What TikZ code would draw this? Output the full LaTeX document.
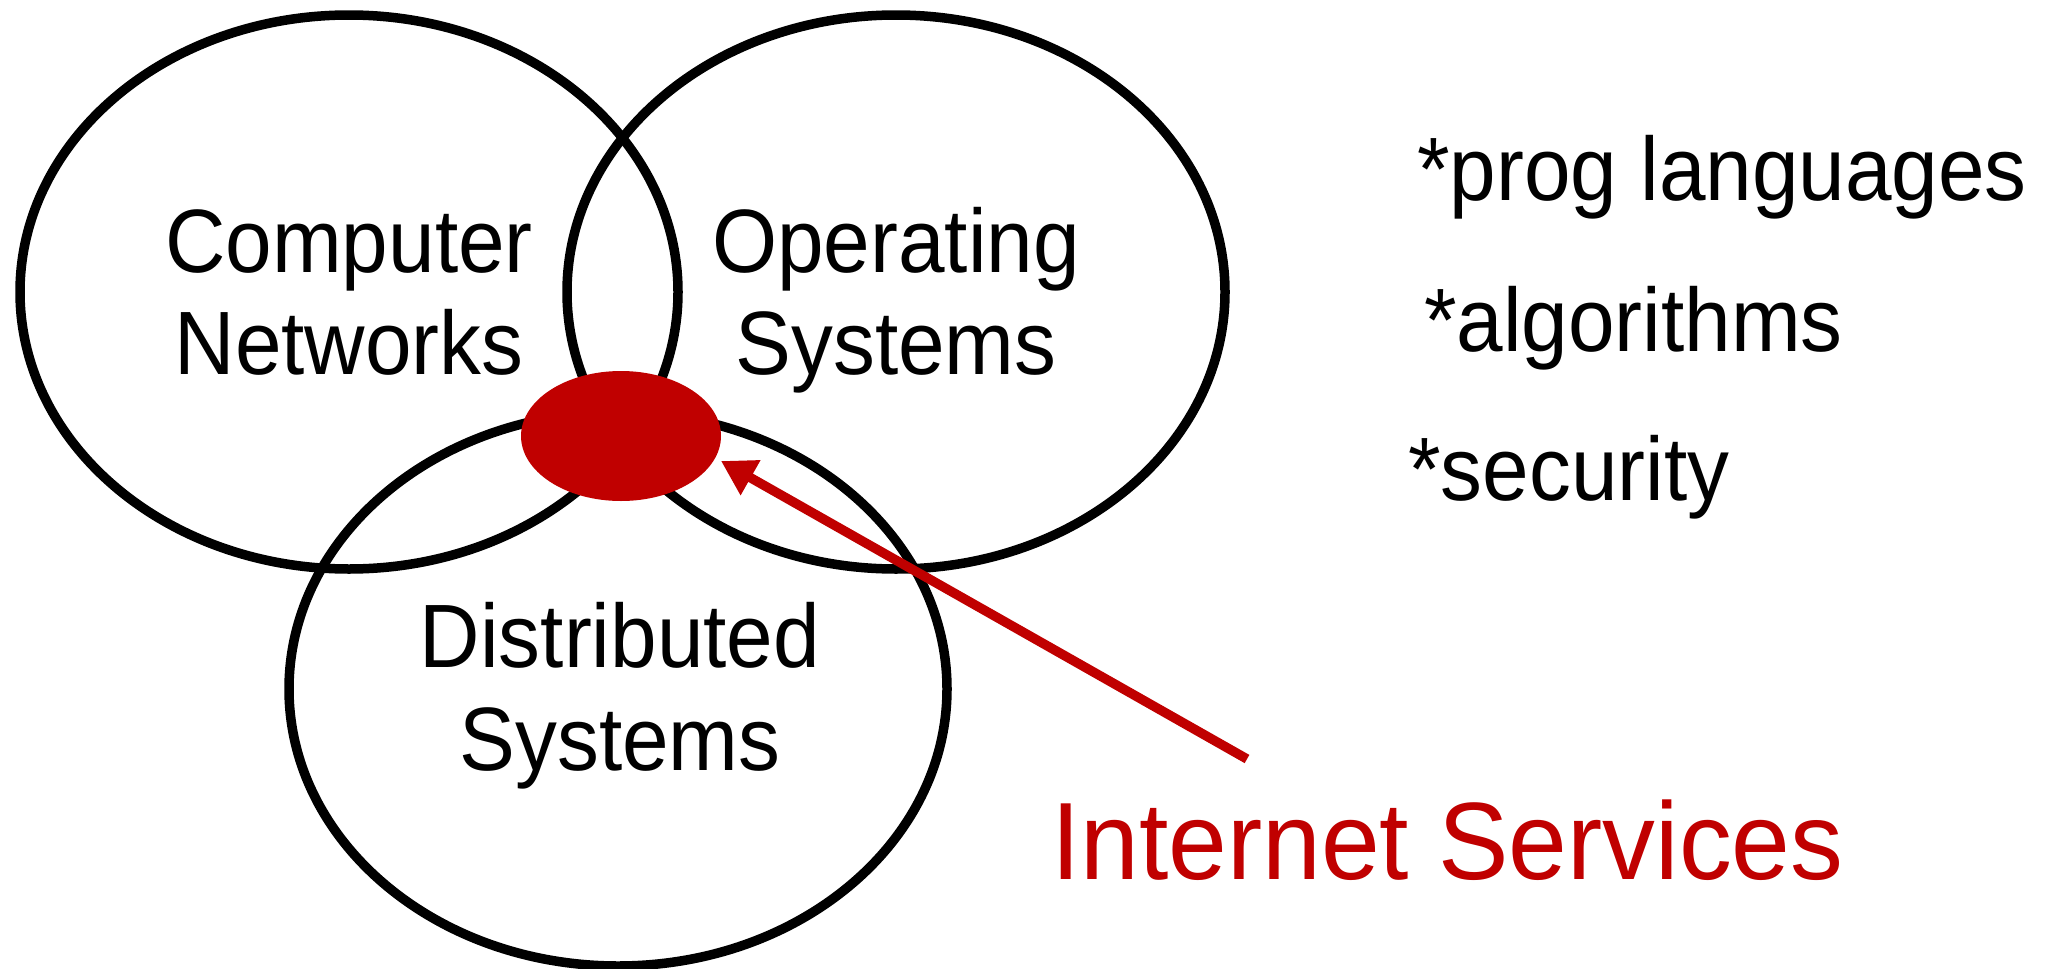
\documentclass[tikz,border=0pt]{standalone}
\usepackage{fontspec}
\usetikzlibrary{shapes.geometric,arrows.meta}
\newfontfamily\helv[FakeStretch=0.93]{Liberation Sans}
\newfontfamily\helvwide[FakeStretch=0.96]{Liberation Sans}
\definecolor{accent}{RGB}{192,0,0}
\tikzset{
  field/.style={ellipse, draw=black, line width=9.5pt, inner sep=0pt,
                minimum width=658pt, minimum height=554pt},
  core/.style={ellipse, fill=accent, inner sep=0pt,
               minimum width=200pt, minimum height=130pt},
  lbl/.style={anchor=base, inner sep=0pt, font=\helv\fontsize{90}{102}\selectfont},
  topic/.style={anchor=base west, inner sep=0pt, font=\helv\fontsize{90}{102}\selectfont},
  callout/.style={anchor=base west, inner sep=0pt, text=accent,
                  font=\helvwide\fontsize{110}{120}\selectfont},
  pointer/.style={draw=accent, line width=9.5pt, -{Triangle[length=34pt,width=38pt]}}
}
\begin{document}
\begin{tikzpicture}[x=1pt,y=-1pt]
  \useasboundingbox (0,0) rectangle (2067,969);

  % three overlapping fields
  \node[field] (cn) at (349,292) {};
  \node[field] (os) at (896,292) {};
  \node[field] (ds) at (618,689) {};

  % shared core
  \node[core] (is) at (621,436) {};

  % field names
  \node[lbl] (cn1) at (349,272) {Computer};
  \node[lbl] (cn2) at (349,374) {Networks};
  \node[lbl] (os1) at (896,272) {Operating};
  \node[lbl] (os2) at (896,374) {Systems};
  \node[lbl] (ds1) at (620,667) {Distributed};
  \node[lbl] (ds2) at (620,770) {Systems};

  % related topics
  \node[topic] (t1) at (1417,200) {*prog languages};
  \node[topic] (t2) at (1424,351) {*algorithms};
  \node[topic] (t3) at (1408,500) {*security};

  % callout
  \node[callout] (isl) at (1051,879) {Internet Services};
  \coordinate (tail) at (1247,759);
  \coordinate (tip) at (721,461);
  \draw[pointer] (tail) -- (tip);
\end{tikzpicture}
\end{document}
